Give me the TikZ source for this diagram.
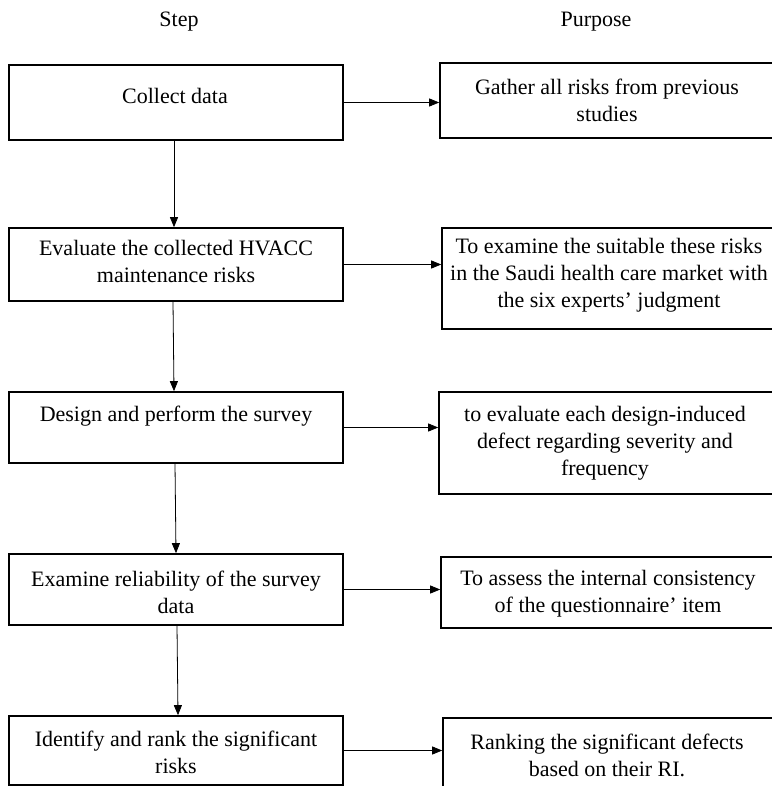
\documentclass[tikz,border=0pt]{standalone}
\usepackage{fontspec}
\setmainfont{Liberation Serif}
\usetikzlibrary{arrows.meta}
\begin{document}
\begin{tikzpicture}[x=1pt,y=-1pt,
  box/.style={draw=black, line width=1.6pt, rectangle, inner sep=0pt},
  txt/.style={align=center, inner sep=0pt, font=\fontsize{22}{27}\selectfont},
  arr/.style={draw=black, line width=0.8pt, -{Triangle[length=10pt,width=8pt]}}]
\useasboundingbox (0,0) rectangle (771,786);
% headers
\node[txt] (hstep) at (179,22) {Step};
\node[txt] (hpurp) at (596,22) {Purpose};
% left boxes
\node[box, minimum width=334pt, minimum height=75pt] (b1) at (176,102.5) {};
\node[box, minimum width=334pt, minimum height=73pt] (b2) at (176,264.5) {};
\node[box, minimum width=334pt, minimum height=71pt] (b3) at (176,427.5) {};
\node[box, minimum width=334pt, minimum height=71pt] (b4) at (176,589.5) {};
\node[box, minimum width=334pt, minimum height=69pt] (b5) at (176,750.5) {};
% right boxes (right edges run past the picture border)
\node[box, minimum width=335pt, minimum height=75pt] (r1) at (607.5,100.5) {};
\node[box, minimum width=333pt, minimum height=101pt] (r2) at (608.5,278.5) {};
\node[box, minimum width=336pt, minimum height=102pt] (r3) at (607,443) {};
\node[box, minimum width=334pt, minimum height=71pt] (r4) at (608,592.5) {};
\node[box, minimum width=332pt, minimum height=72pt] (r5) at (609,754) {};
% texts
\node[txt] (t1) at (175,96) {Collect data};
\node[txt] (t2) at (176,261) {Evaluate the collected HVACC\\maintenance risks};
\node[txt] (t3) at (176,416) {Design and perform the survey};
\node[txt] (t4) at (176,592) {Examine reliability of the survey\\data};
\node[txt] (t5) at (176,752) {Identify and rank the significant\\risks};
\node[txt] (u1) at (607,100) {Gather all risks from previous\\studies};
\node[txt] (u2) at (609,275.5) {To examine the suitable these risks\\in the Saudi health care market with\\the six experts’ judgment};
\node[txt] (u3) at (605,443) {to evaluate each design-induced\\defect regarding severity and\\frequency};
\node[txt] (u4) at (608,593.5) {To assess the internal consistency\\of the questionnaire’ item};
\node[txt] (u5) at (607,755) {Ranking the significant defects\\based on their RI.};
% horizontal arrows
\draw[arr] (b1.east) -- (b1.east -| r1.west);
\draw[arr] (b2.east) -- (b2.east -| r2.west);
\draw[arr] (b3.east) -- (b3.east -| r3.west);
\draw[arr] (b4.east) -- (b4.east -| r4.west);
\draw[arr] (b5.east) -- (b5.east -| r5.west);
% vertical arrows
\draw[arr] ([xshift=-2pt]b1.south) -- ([xshift=-2pt]b2.north);
\draw[arr] ([xshift=-3pt]b2.south) -- ([xshift=-2pt]b3.north);
\draw[arr] ([xshift=-1pt]b3.south) -- (b4.north);
\draw[arr] ([xshift=1pt]b4.south) -- ([xshift=2pt]b5.north);
\end{tikzpicture}
\end{document}
